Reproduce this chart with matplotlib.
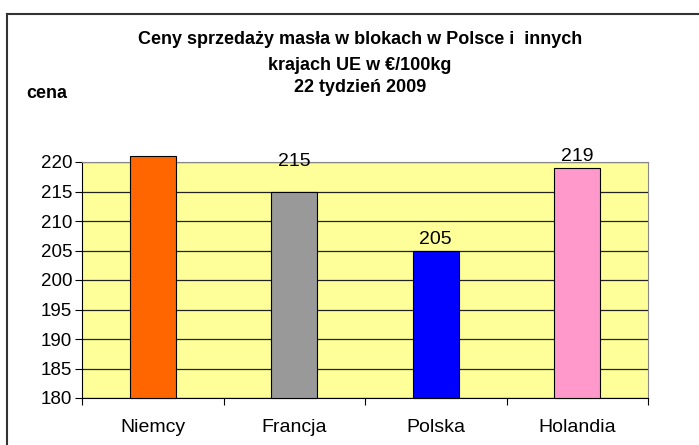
import matplotlib.pyplot as plt
from matplotlib.lines import Line2D

# Data
countries = ['Niemcy', 'Francja', 'Polska', 'Holandia']
prices = [221, 215, 205, 219]
bar_colors = ['#FF6600', '#999999', '#0000FF', '#FF99CC']
label_offsets = [None, 22, 3, 3]  # px above bar top, None = no label
yticks = [180, 185, 190, 195, 200, 205, 210, 215, 220]
y_min = 180

plt.rcParams['font.family'] = ['Liberation Sans', 'DejaVu Sans']

fig = plt.figure(figsize=(6.99, 4.45), dpi=100)
ax = fig.add_axes([82 / 699, 47 / 445, 566 / 699, 236 / 445])
ax.set_facecolor('#FFFF99')

x = range(len(countries))
ax.bar(x, [p - y_min for p in prices], bottom=y_min, width=0.325, color=bar_colors,
       edgecolor='black', linewidth=0.8, zorder=3, clip_on=False)

ax.set_ylim(y_min, 220)
ax.set_xlim(-0.5, len(countries) - 0.5)
ax.set_yticks(yticks)
ax.set_yticklabels([str(v) for v in yticks], fontsize=13.5)
ax.yaxis.grid(True, color='#222222', linewidth=0.9, zorder=1)

# category labels between boundary ticks
ax.set_xticks([i - 0.5 for i in range(len(countries) + 1)])
ax.set_xticklabels([])
ax.set_xticks(list(x), minor=True)
ax.set_xticklabels(countries, minor=True, fontsize=14)
ax.tick_params(axis='x', which='minor', length=0, pad=15)
ax.tick_params(axis='x', which='major', length=5, color='black')
ax.tick_params(axis='y', length=5, pad=2)

ax.spines['left'].set_color('black')
ax.spines['bottom'].set_color('black')
ax.spines['top'].set_color('#888888')
ax.spines['right'].set_color('#888888')

for i, (v, off) in enumerate(zip(prices, label_offsets)):
    if off is None:
        continue
    ax.annotate(str(v), (i, v), xytext=(0, off * 0.72), textcoords='offset points',
                ha='center', va='bottom', fontsize=14, zorder=5,
                annotation_clip=False)

# titles
title_lines = ['Ceny sprzedaży masła w blokach w Polsce i  innych',
               'krajach UE w €/100kg',
               '22 tydzień 2009']
for line, ypx in zip(title_lines, [39, 65, 88]):
    fig.text(360 / 699, 1 - ypx / 445, line, ha='center', va='center',
             fontsize=13, fontweight='bold')
fig.text(47 / 699, 1 - 93 / 445, 'cena', ha='center', va='center',
         fontsize=13, fontweight='bold')

# outer chart frame (left and top edges visible)
fig.add_artist(Line2D([7 / 699, 7 / 699], [0, 1 - 14 / 445], color='#333333',
                      linewidth=1.5, transform=fig.transFigure))
fig.add_artist(Line2D([7 / 699, 1], [1 - 14 / 445, 1 - 14 / 445], color='#333333',
                      linewidth=1.5, transform=fig.transFigure))

fig.savefig('out.png', dpi=100)
